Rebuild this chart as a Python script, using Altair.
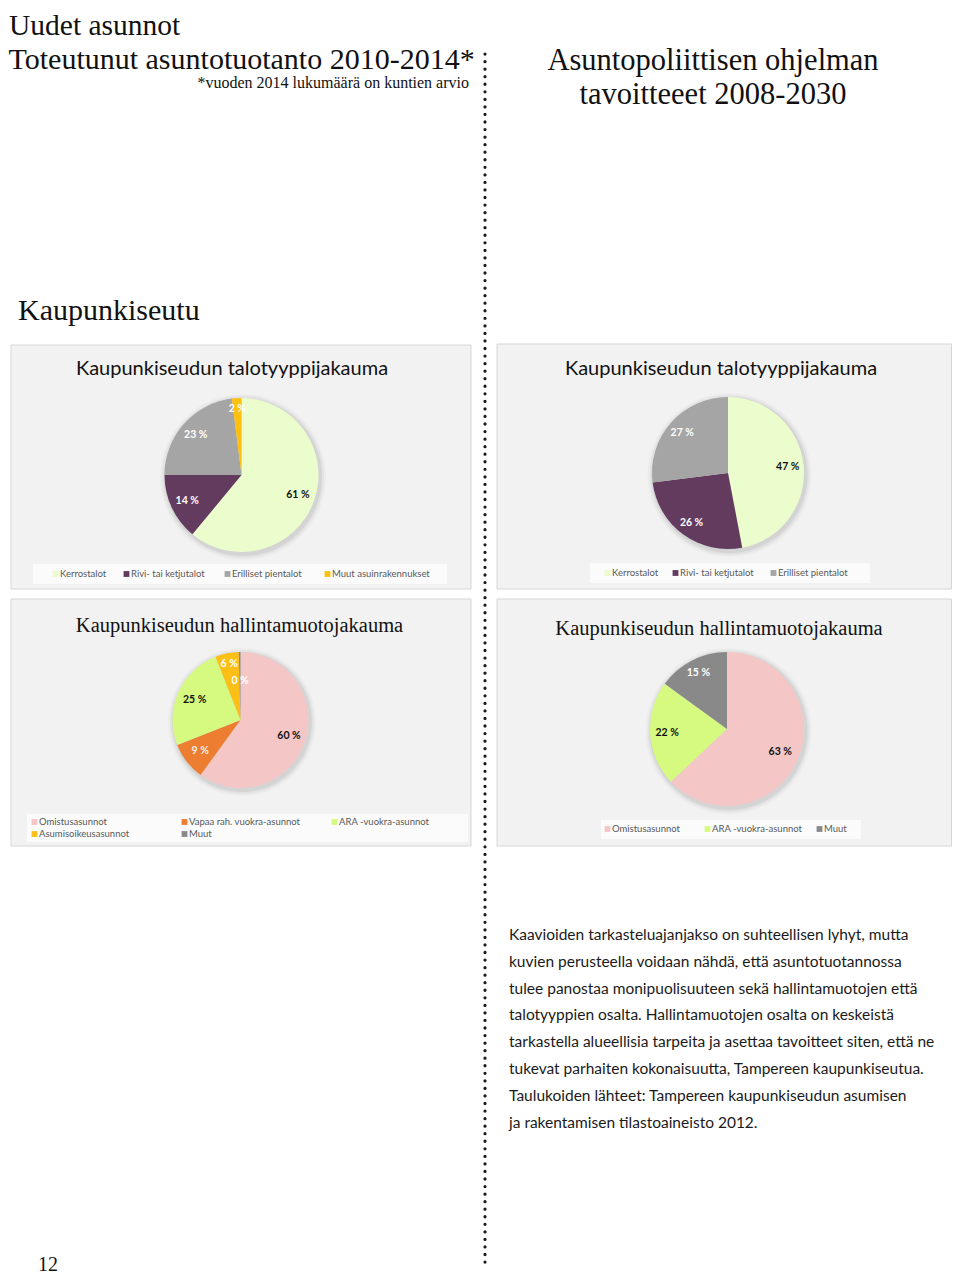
import altair as alt
import pandas as pd

# ---------------- data ----------------
talo_cats = ["Kerrostalot", "Rivi- tai ketjutalot", "Erilliset pientalot", "Muut asuinrakennukset"]
talo_toteutunut = [61, 14, 23, 2]

talo_tav_cats = ["Kerrostalot", "Rivi- tai ketjutalot", "Erilliset pientalot"]
talo_tavoite = [47, 26, 27]

hall_cats = ["Omistusasunnot", "Vapaa rah. vuokra-asunnot", "ARA -vuokra-asunnot",
             "Asumisoikeusasunnot", "Muut"]
hall_toteutunut = [60, 9, 25, 5.6, 0.4]

hall_tav_cats = ["Omistusasunnot", "ARA -vuokra-asunnot", "Muut"]
hall_tavoite = [63, 22, 15]

body_lines = [
    "Kaavioiden tarkasteluajanjakso on suhteellisen lyhyt, mutta",
    "kuvien perusteella voidaan nähdä, että asuntotuotannossa",
    "tulee panostaa monipuolisuuteen sekä hallintamuotojen että",
    "talotyyppien osalta. Hallintamuotojen osalta on keskeistä",
    "tarkastella alueellisia tarpeita ja asettaa tavoitteet siten, että ne",
    "tukevat parhaiten kokonaisuutta, Tampereen kaupunkiseutua.",
    "Taulukoiden lähteet: Tampereen kaupunkiseudun asumisen",
    "ja rakentamisen tilastoaineisto 2012.",
]

# ---------------- styles ----------------
colors = {
    "Kerrostalot": "#ebfccd",
    "Rivi- tai ketjutalot": "#633b5f",
    "Erilliset pientalot": "#a5a5a5",
    "Muut asuinrakennukset": "#fdc010",
    "Omistusasunnot": "#f4c7c6",
    "Vapaa rah. vuokra-asunnot": "#ed7d31",
    "ARA -vuokra-asunnot": "#d6fa80",
    "Asumisoikeusasunnot": "#fcbf15",
    "Muut": "#898989",
}
label_colors = {
    "Kerrostalot": "#111111",
    "Rivi- tai ketjutalot": "#ffffff",
    "Erilliset pientalot": "#ffffff",
    "Muut asuinrakennukset": "#ffffff",
    "Omistusasunnot": "#111111",
    "Vapaa rah. vuokra-asunnot": "#fbeee6",
    "ARA -vuokra-asunnot": "#111111",
    "Asumisoikeusasunnot": "#ffffff",
    "Muut": "#ffffff",
}
all_cats = list(colors.keys())
cs = alt.Scale(domain=all_cats, range=[colors[c] for c in all_cats])
theta_scale = alt.Scale(domain=[0, 100])

SERIF = "Liberation Serif"
SANS = "Lato"

# page is 960x1284 with an 8px body margin on every side
W, H = 944, 1268
xs = alt.Scale(domain=[8, 8 + W], nice=False, zero=False)
ys = alt.Scale(domain=[8, 8 + H], nice=False, zero=False, reverse=True)


def px(v):
    return v - 8


def X(f):
    return alt.X(f, scale=xs, axis=None)


def Y(f):
    return alt.Y(f, scale=ys, axis=None)


layers = []

# ---------------- panel backgrounds ----------------
panels = pd.DataFrame({
    "x": [11, 497, 11, 497], "x2": [471, 951.5, 471, 951.5],
    "y": [345, 344, 599, 599], "y2": [589, 589, 846, 846],
})
layers.append(alt.Chart(panels).mark_rect(fill="#f2f2f2", stroke="#d6d6d6", strokeWidth=1).encode(
    x=X("x:Q"), x2="x2:Q", y=Y("y:Q"), y2="y2:Q"))

legboxes = pd.DataFrame({
    "x": [33, 590, 27, 601], "x2": [447, 870, 468, 861],
    "y": [564, 563, 814, 820], "y2": [584, 583, 842, 839],
})
layers.append(alt.Chart(legboxes).mark_rect(fill="#fbfbfb").encode(
    x=X("x:Q"), x2="x2:Q", y=Y("y:Q"), y2="y2:Q"))


# ---------------- pies ----------------
def pie_layers(cats, vals, cx, cy, r, label_radii):
    df = pd.DataFrame({"cat": cats, "val": vals})
    df["idx"] = list(range(len(df)))
    df["label"] = [f"{v:.0f} %" for v in vals]
    df["lc"] = [label_colors[c] for c in cats]
    df["lr"] = label_radii
    out = []
    one = pd.DataFrame({"k": [0]})
    for extra, op in [(6, 0.025), (4, 0.04), (2, 0.06)]:
        out.append(alt.Chart(one).mark_arc(radius=r + extra, theta=0, theta2=6.2832,
                                           color="#000000", opacity=op).encode(
            x=alt.value(px(cx) + 1.5), y=alt.value(px(cy) + 2)))
    out.append(alt.Chart(df).mark_arc(radius=r).encode(
        x=alt.value(px(cx)), y=alt.value(px(cy)),
        theta=alt.Theta("val:Q", stack=True, scale=theta_scale),
        color=alt.Color("cat:N", scale=cs, legend=None),
        order=alt.Order("idx:Q"),
    ))
    out.append(alt.Chart(df).transform_window(
        cum="sum(val)", sort=[alt.SortField("idx")], frame=[None, 0]
    ).transform_calculate(
        mid="datum.cum - datum.val / 2"
    ).mark_text(font=SANS, fontSize=10.5, fontWeight="bold").encode(
        x=alt.value(px(cx)), y=alt.value(px(cy)),
        theta=alt.Theta("mid:Q", stack=False, scale=theta_scale),
        radius=alt.Radius("lr:Q", scale=None, stack=False),
        text="label:N",
        fill=alt.Fill("lc:N", scale=None),
    ))
    return out


layers += pie_layers(talo_cats, talo_toteutunut, 241.5, 475, 77, [60, 60, 61, 66])
layers += pie_layers(talo_tav_cats, talo_tavoite, 728, 473, 76, [60, 62, 61])
layers += pie_layers(hall_cats, hall_toteutunut, 240.5, 720, 68, [51, 51, 50, 57, 39])
layers += pie_layers(hall_tav_cats, hall_tavoite, 727, 729, 77, [58, 60, 63])

# ---------------- legends ----------------
leg_rows = []


def add_leg(cats, xs_text, ys_text):
    for c, x, y in zip(cats, xs_text, ys_text):
        leg_rows.append({"cat": c, "x": x, "mx": x - 4.5, "y": y})


add_leg(talo_cats, [60, 131, 232, 332], [574] * 4)
add_leg(talo_tav_cats, [612, 680, 778], [573] * 3)
add_leg(hall_cats, [39, 189, 339, 39, 189], [822, 822, 822, 834, 834])
add_leg(hall_tav_cats, [612, 712, 824], [829] * 3)
leg = pd.DataFrame(leg_rows)

layers.append(alt.Chart(leg).mark_square(size=34, opacity=1).encode(
    x=X("mx:Q"), y=Y("y:Q"), color=alt.Color("cat:N", scale=cs, legend=None)))
layers.append(alt.Chart(leg).mark_text(font=SANS, fontSize=9.5, color="#595959",
                                       align="left", baseline="middle").encode(
    x=X("x:Q"), y=Y("y:Q"), text="cat:N"))


# ---------------- texts ----------------
def txt(rows, **mark):
    df = pd.DataFrame(rows, columns=["t", "x", "y"])
    return alt.Chart(df).mark_text(baseline="alphabetic", **mark).encode(
        x=X("x:Q"), y=Y("y:Q"), text="t:N")


layers.append(txt([["Uudet asunnot", 9, 35]],
                  font=SERIF, fontSize=29.5, align="left", color="#111111"))
layers.append(txt([["Toteutunut asuntotuotanto 2010-2014*", 8.5, 69],
                   ["Kaupunkiseutu", 18, 320]],
                  font=SERIF, fontSize=30, align="left", color="#111111"))
layers.append(txt([["Asuntopoliittisen ohjelman", 713, 70],
                   ["tavoitteeet 2008-2030", 713, 104]],
                  font=SERIF, fontSize=30.5, align="center", color="#111111"))
layers.append(txt([["*vuoden 2014 lukumäärä on kuntien arvio", 469, 88]],
                  font=SERIF, fontSize=16, align="right", color="#111111"))
layers.append(txt([["12", 38, 1271]], font=SERIF, fontSize=20, align="left", color="#111111"))
layers.append(txt([["Kaupunkiseudun talotyyppijakauma", 232, 375],
                   ["Kaupunkiseudun talotyyppijakauma", 721, 375]],
                  font=SANS, fontSize=20, align="center", color="#111111"))
layers.append(txt([["Kaupunkiseudun hallintamuotojakauma", 239.5, 632],
                   ["Kaupunkiseudun hallintamuotojakauma", 719, 635]],
                  font=SERIF, fontSize=20.5, align="center", color="#111111"))
body_y = [940, 967, 994, 1020, 1047, 1074, 1101, 1128]
layers.append(txt([[t, 509, y] for t, y in zip(body_lines, body_y)],
                  font=SANS, fontSize=15.5, align="left", color="#1a1a1a"))

# ---------------- dotted divider ----------------
div = pd.DataFrame({"x": [485], "y": [54], "y2": [1264]})
layers.append(alt.Chart(div).mark_rule(strokeWidth=3.2, strokeDash=[0.1, 7.45], strokeCap="round",
                                       color="#1a1a1a").encode(
    x=X("x:Q"), y=Y("y:Q"), y2="y2:Q"))

chart = alt.layer(*layers).properties(
    width=W, height=H, background="white", padding=0,
    autosize=alt.AutoSizeParams(type="none"),
).configure_view(stroke=None)

chart.save("out.html", embed_options={"renderer": "svg", "actions": False})
